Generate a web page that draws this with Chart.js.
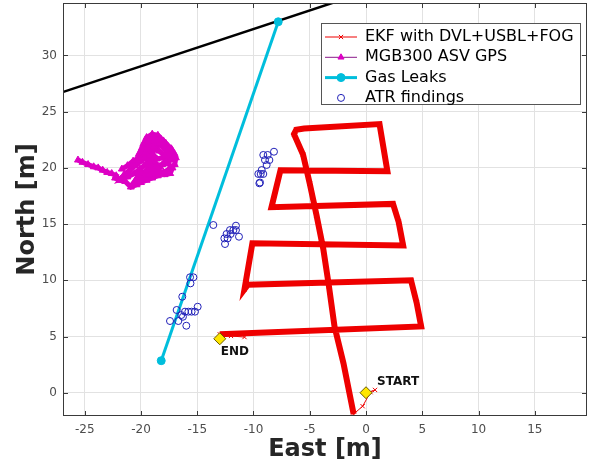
<!DOCTYPE html>
<html>
<head>
<meta charset="utf-8">
<script src="https://cdn.jsdelivr.net/npm/chart.js@4.4.1/dist/chart.umd.min.js"></script>
<style>
  html, body { margin: 0; padding: 0; background: #fff; }
  #wrap { position: relative; width: 590px; height: 466px; }
</style>
</head>
<body>
<div id="wrap"><canvas id="navChart" width="590" height="466"></canvas></div>
<script>
// axis limits + tick labels
const xMin = -26.93, xMax = 19.64;
const yMin = -2.07, yMax = 34.67;
const xTicks = [-25, -20, -15, -10, -5, 0, 5, 10, 15];
const yTicks = [0, 5, 10, 15, 20, 25, 30];

// EKF with DVL+USBL+FOG trajectory
const ekfEast  = [0.8, 0.4, -0.3, -1.1, -2.0, -2.8, -3.3, -3.8, -4.4, -5.0, -5.6, -6.4, -6.2, -5.5, 1.2, 1.9,
                  -7.6, -8.4, 2.4, 2.9, 3.3, -10.1, -10.8, -10.5, 4.0, 4.5, 4.9, -13.0, -12.0, -10.8];
const ekfNorth = [0.25, 0.05, -1.2, -1.9, 2.6, 5.9, 9.5, 12.8, 15.8, 18.6, 21.2, 23.0, 23.4, 23.5, 23.9, 19.7,
                  19.8, 16.5, 16.8, 15.2, 13.1, 13.3, 9.2, 9.6, 10.0, 8.0, 5.9, 5.2, 5.05, 4.95];

// MGB300 ASV GPS track
const gpsEast  = [-25.6, -25.2, -24.7, -24.2, -23.8, -23.4, -23.0, -22.6, -22.2, -22.3,
                  -21.9, -21.4, -20.9, -20.4, -20.0, -19.5, -19.0, -18.5, -18.0, -17.5,
                  -17.0, -16.9, -17.2, -17.6, -18.0, -18.5, -19.0, -19.5, -19.8, -19.6,
                  -19.2, -18.8, -18.3, -17.8, -17.5, -17.9, -18.4, -18.9, -19.3, -19.0,
                  -18.6, -18.1, -17.7, -18.2, -18.7, -19.4, -20.0, -20.5, -21.0, -21.5,
                  -21.8, -21.2, -20.6, -20.1, -19.6, -19.1, -18.7, -19.3, -19.9, -20.5,
                  -20.2, -19.6, -19.0, -18.4, -17.9, -17.4, -17.2, -17.6, -18.1, -18.6,
                  -19.2, -19.7, -20.2, -19.9, -19.4, -18.9, -18.3, -17.8, -17.3, -17.0,
                  -17.4, -17.9, -18.4, -18.9, -19.4, -19.7, -20.2, -20.7, -21.2, -21.7];
const gpsNorth = [20.7, 20.5, 20.3, 20.1, 20.0, 19.8, 19.6, 19.5, 19.3, 19.1,
                  18.9, 18.8, 18.3, 18.5, 18.7, 18.9, 19.1, 19.3, 19.6, 19.9,
                  20.3, 20.9, 21.4, 21.9, 22.4, 22.9, 23.0, 22.7, 22.1, 21.5,
                  21.0, 20.5, 20.1, 20.6, 21.2, 21.7, 22.1, 22.4, 22.0, 21.3,
                  20.8, 20.9, 21.5, 22.5, 21.7, 21.1, 20.6, 20.2, 19.8, 19.4,
                  19.0, 19.2, 19.5, 19.9, 20.3, 20.0, 19.6, 19.4, 19.1, 18.9,
                  19.3, 19.7, 20.0, 19.8, 19.4, 19.5, 20.0, 20.4, 20.3, 20.2,
                  20.5, 20.9, 21.2, 21.8, 22.3, 22.8, 22.6, 22.2, 21.7, 21.2,
                  20.7, 21.1, 21.5, 21.9, 21.7, 21.3, 20.9, 20.6, 20.2, 19.9];

// Gas leaks (pipeline)
const gasEast  = [-18.2, -7.8];
const gasNorth = [2.85, 33.0];

// ATR findings
const atrEast  = [-9.13, -8.74, -8.18, -8.98, -8.59, -8.83, -9.27, -9.57, -9.36, -9.13, -9.48, -9.42,
                  -13.57, -11.56, -12.09, -11.79, -11.56, -12.39, -12.03, -11.29, -12.59, -12.30, -12.53,
                  -15.64, -15.34, -15.60, -16.33, -16.83, -16.09, -15.79, -15.50, -15.20, -14.96,
                  -16.42, -16.27, -17.42, -16.68, -15.97];
const atrNorth = [21.15, 21.15, 21.44, 20.70, 20.70, 20.26, 19.81, 19.46, 19.46, 19.46, 18.63, 18.70,
                  14.92, 14.86, 14.47, 14.47, 14.47, 14.12, 14.12, 13.88, 13.73, 13.73, 13.23,
                  10.27, 10.27, 9.73, 8.54, 7.36, 7.21, 7.21, 7.21, 7.21, 7.65,
                  6.91, 6.76, 6.38, 6.38, 5.96];

// black line top-left (clipped by axes)
const shoreEast  = [-28, -2];
const shoreNorth = [26.4, 35.0];

// start / end markers
const markNames = ['START', 'END'];
const markEast  = [0, -13.0];
const markNorth = [0, 4.8];

const FONT = 'DejaVu Sans';
const zip = (xs, ys) => xs.map((v, i) => ({ x: v, y: ys[i] }));

// khung + vạch chia hướng vào trong (kiểu MATLAB)
const framePlugin = {
    id: 'frame',
    afterDatasetsDraw(chart) {
        const { ctx, chartArea: a, scales: { x, y } } = chart;
        ctx.save();
        ctx.strokeStyle = '#3a3a3a';
        ctx.lineWidth = 1;
        ctx.strokeRect(a.left + 0.5, a.top + 0.5, a.right - a.left - 1, a.bottom - a.top - 1);
        ctx.beginPath();
        xTicks.forEach(v => {
            const px = Math.round(x.getPixelForValue(v)) + 0.5;
            ctx.moveTo(px, a.bottom); ctx.lineTo(px, a.bottom - 5);
            ctx.moveTo(px, a.top); ctx.lineTo(px, a.top + 5);
        });
        yTicks.forEach(v => {
            const py = Math.round(y.getPixelForValue(v)) + 0.5;
            ctx.moveTo(a.left, py); ctx.lineTo(a.left + 5, py);
            ctx.moveTo(a.right, py); ctx.lineTo(a.right - 5, py);
        });
        ctx.stroke();

        // chữ START / END
        const meta = chart.getDatasetMeta(chart.data.datasets.findIndex(d => d.id === 'marks'));
        ctx.font = 'bold 12px "' + FONT + '"';
        ctx.fillStyle = '#111';
        ctx.textBaseline = 'middle';
        ctx.textAlign = 'left';
        meta.data.forEach((pt, i) => {
            if (i === 0) ctx.fillText(markNames[i], pt.x + 11, pt.y - 11);
            else ctx.fillText(markNames[i], pt.x + 1, pt.y + 13);
        });
        ctx.restore();
    }
};

// legend box góc trên phải
const legendPlugin = {
    id: 'boxLegend',
    afterDraw(chart) {
        const { ctx, chartArea: area } = chart;
        const items = chart.data.datasets.filter(d => d.inLegend);
        ctx.save();
        ctx.font = '16px "' + FONT + '"';
        const textW = Math.max(...items.map(d => ctx.measureText(d.label).width));
        const w = Math.round(44 + textW + 6), h = 81, rowH = 20.3;
        const left = Math.round(area.right - 7 - w), top = area.top + 20;
        ctx.fillStyle = '#fff';
        ctx.fillRect(left, top, w, h);
        ctx.strokeStyle = '#555';
        ctx.lineWidth = 1;
        ctx.strokeRect(left + 0.5, top + 0.5, w, h);
        items.forEach((d, i) => {
            const cy = top + 14 + i * rowH;
            if (d.showLine) {
                ctx.strokeStyle = d.legendColor || d.borderColor;
                ctx.lineWidth = d.legendLineWidth;
                ctx.beginPath();
                ctx.moveTo(left + 4, cy);
                ctx.lineTo(left + 36, cy);
                ctx.stroke();
            }
            ctx.fillStyle = d.pointBackgroundColor;
            ctx.strokeStyle = d.pointBorderColor;
            ctx.lineWidth = d.pointBorderWidth;
            Chart.helpers.drawPoint(ctx, {
                pointStyle: d.pointStyle, radius: d.legendRadius || d.pointRadius, rotation: 0,
                borderWidth: d.pointBorderWidth
            }, left + 20, cy);
            ctx.fillStyle = '#000';
            ctx.textBaseline = 'middle';
            ctx.textAlign = 'left';
            ctx.fillText(d.label, left + 44, cy);
        });
        ctx.restore();
    }
};

const nEkf = ekfEast.length;

const config = {
    type: 'scatter',
    data: {
        datasets: [
            {
                label: 'EKF with DVL+USBL+FOG',
                inLegend: true,
                data: zip(ekfEast, ekfNorth),
                showLine: true,
                borderColor: '#ee0000',
                borderWidth: 1,
                legendLineWidth: 1,
                segment: {
                    // đầu và cuối quỹ đạo vẽ mảnh
                    borderWidth: c => (c.p0DataIndex < 3 || c.p0DataIndex >= nEkf - 3) ? 1 : 6
                },
                pointStyle: 'crossRot',
                pointRadius: 3,
                pointBorderWidth: 1,
                pointBackgroundColor: '#ee0000',
                pointBorderColor: '#ee0000',
                order: 2
            },
            {
                label: 'MGB300 ASV GPS',
                inLegend: true,
                data: zip(gpsEast, gpsNorth),
                showLine: true,
                borderColor: '#dd00c4',
                legendColor: '#8a1a8a',
                borderWidth: 5,
                legendLineWidth: 1,
                pointStyle: 'triangle',
                pointRadius: 4,
                legendRadius: 3.5,
                pointBorderWidth: 1,
                pointBackgroundColor: '#dd00c4',
                pointBorderColor: '#dd00c4',
                order: 3
            },
            {
                label: 'Gas Leaks',
                inLegend: true,
                data: zip(gasEast, gasNorth),
                showLine: true,
                borderColor: 'rgb(0, 190, 220)',
                borderWidth: 3,
                legendLineWidth: 3,
                pointStyle: 'circle',
                pointRadius: 4,
                pointBorderWidth: 1,
                pointBackgroundColor: 'rgb(0, 190, 220)',
                pointBorderColor: 'rgb(0, 190, 220)',
                order: 5
            },
            {
                label: 'ATR findings',
                inLegend: true,
                data: zip(atrEast, atrNorth),
                showLine: false,
                pointStyle: 'circle',
                pointRadius: 3.5,
                pointBorderWidth: 1,
                pointBackgroundColor: 'rgba(0,0,0,0)',
                pointBorderColor: '#2020b8',
                order: 4
            },
            {
                label: 'shore',
                data: zip(shoreEast, shoreNorth),
                showLine: true,
                borderColor: '#000',
                borderWidth: 2.5,
                pointRadius: 0,
                order: 6
            },
            {
                id: 'marks',
                label: 'marks',
                data: zip(markEast, markNorth),
                showLine: false,
                pointStyle: 'rectRot',
                pointRadius: 6,
                pointBorderWidth: 1,
                pointBackgroundColor: '#ffe600',
                pointBorderColor: '#6b5a00',
                order: 1
            }
        ]
    },
    options: {
        responsive: false,
        animation: false,
        events: [],
        layout: { autoPadding: false, padding: { top: 3, right: 3, left: 0, bottom: 0 } },
        plugins: {
            legend: { display: false },
            tooltip: { enabled: false }
        },
        scales: {
            x: {
                type: 'linear',
                min: xMin,
                max: xMax,
                afterFit: s => { s.height = 50; s.paddingLeft = 0; s.paddingRight = 0; },
                afterBuildTicks: s => { s.ticks = xTicks.map(v => ({ value: v })); },
                grid: { color: '#e2e2e2', drawTicks: false },
                border: { display: false },
                ticks: { padding: 7, color: '#4d4d4d', font: { family: FONT, size: 12 } },
                title: {
                    display: true,
                    text: 'East [m]',
                    color: '#262626',
                    font: { family: FONT, size: 24, weight: 'bold' },
                    padding: { top: 0, bottom: 2 }
                }
            },
            y: {
                type: 'linear',
                min: yMin,
                max: yMax,
                afterFit: s => { s.width = 63; s.paddingTop = 0; s.paddingBottom = 0; },
                afterBuildTicks: s => { s.ticks = yTicks.map(v => ({ value: v })); },
                grid: { color: '#e2e2e2', drawTicks: false },
                border: { display: false },
                ticks: { padding: 6, color: '#4d4d4d', font: { family: FONT, size: 12 } },
                title: {
                    display: true,
                    text: 'North [m]',
                    color: '#262626',
                    font: { family: FONT, size: 24, weight: 'bold' },
                    padding: { top: 13, bottom: 0 }
                }
            }
        }
    },
    plugins: [framePlugin, legendPlugin]
};

const ctx = document.getElementById('navChart').getContext('2d');
const navChart = new Chart(ctx, config);
</script>
</body>
</html>
